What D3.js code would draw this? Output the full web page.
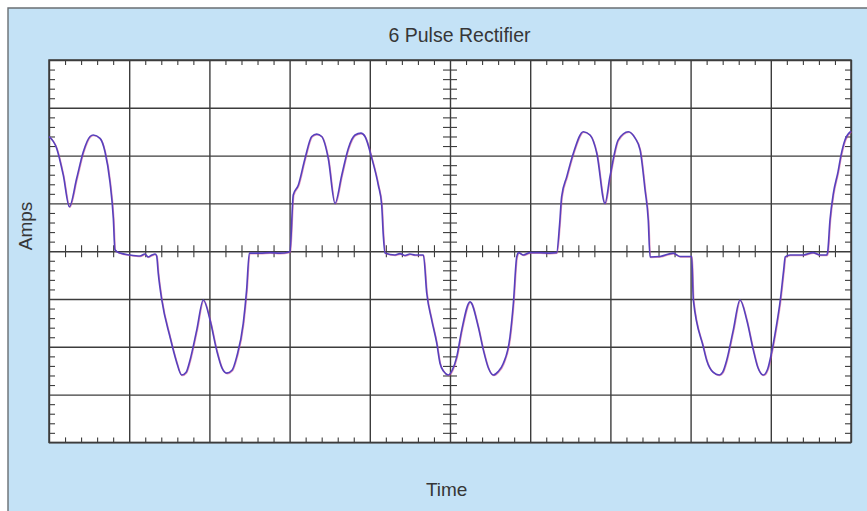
<!DOCTYPE html>
<html>
<head>
<meta charset="utf-8">
<script src="https://cdnjs.cloudflare.com/ajax/libs/d3/7.8.5/d3.min.js"></script>
<style>
  html, body { margin: 0; padding: 0; background: #ffffff; }
  svg { display: block; }
  text { font-family: "Liberation Sans", Arial, sans-serif; fill: #363636; }
</style>
</head>
<body>
<div class="chart"></div>
<script>
// trace: time in ms (5 ms / div), current in divisions
var timeMs = [
  0.00, 0.48, 0.89, 1.27, 1.73, 2.14, 2.56, 2.76, 3.18, 3.49, 3.80, 4.01, 4.11, 4.43,
  5.05, 5.67, 5.98, 6.17, 6.42, 6.61,
  6.71, 6.81, 7.03, 7.54, 7.92, 8.27, 8.55, 8.79, 9.21, 9.62, 10.04, 10.45, 10.78, 11.08,
  11.41, 11.70, 12.11, 12.32, 12.49,
  13.15, 13.78, 14.40, 14.92,
  15.02, 15.23, 15.54, 15.96, 16.38, 16.69, 17.00, 17.41, 17.83, 18.25, 18.66, 19.08,
  19.45, 19.70, 20.12, 20.53, 20.74, 20.84, 20.95,
  21.57, 21.88, 22.19, 22.50, 22.82, 23.23,
  23.34, 23.55, 23.86, 24.17, 24.38, 24.62, 24.89, 25.15, 25.42, 25.73, 26.25, 26.76,
  27.08, 27.40, 27.70, 28.00, 28.32, 28.74, 28.95, 29.16, 29.28,
  29.57, 29.99, 30.61, 31.23, 31.65,
  31.83, 31.96, 32.28, 32.69, 33.31, 33.73, 34.15, 34.66, 34.97, 35.49, 36.12, 36.53,
  36.85, 37.16, 37.36, 37.47,
  38.09, 38.92, 39.34, 40.07,
  40.17, 40.79, 41.00, 41.40, 41.79, 42.00, 42.25, 42.66, 43.08, 43.50, 43.91, 44.20,
  44.53, 44.80, 45.06, 45.33, 45.60, 45.80, 45.90,
  46.20, 47.01, 47.63, 48.07, 48.48, 48.54,
  48.69, 48.90, 49.19, 49.38, 49.63, 50.00
];
var amps = [
  2.40, 2.15, 1.59, 0.93, 1.53, 2.08, 2.40, 2.43, 2.36, 2.08, 1.45, 0.69, 0.03, -0.04,
  -0.08, -0.10, -0.06, -0.12, -0.08, -0.06,
  -0.10, -0.46, -1.02, -1.79, -2.28, -2.59, -2.53, -2.28, -1.65, -1.02, -1.44, -2.07, -2.44, -2.55,
  -2.49, -2.21, -1.51, -0.81, -0.04,
  -0.04, -0.03, -0.04, -0.02,
  -0.01, 1.18, 1.38, 1.94, 2.40, 2.45, 2.40, 1.94, 1.00, 1.59, 2.15, 2.43,
  2.47, 2.40, 1.95, 1.38, 0.97, 0.34, -0.04,
  -0.08, -0.05, -0.09, -0.06, -0.08, -0.08,
  -0.08, -0.88, -1.44, -1.92, -2.35, -2.52, -2.59, -2.48, -2.21, -1.65, -1.06, -1.58,
  -2.07, -2.45, -2.59, -2.52, -2.35, -1.79, -1.09, -0.12, -0.03,
  -0.08, -0.03, -0.03, -0.04, -0.03,
  0.55, 1.14, 1.56, 2.05, 2.50, 2.43, 2.05, 1.00, 1.56, 2.33, 2.50, 2.37,
  2.12, 1.28, 0.65, -0.12,
  -0.11, -0.04, -0.11, -0.11,
  -1.02, -2.00, -2.28, -2.53, -2.59, -2.53, -2.28, -1.65, -1.02, -1.44, -2.07, -2.44,
  -2.59, -2.47, -2.10, -1.60, -1.00, -0.40, -0.12,
  -0.08, -0.08, -0.03, -0.08, -0.08, -0.03,
  0.65, 1.21, 1.66, 2.01, 2.33, 2.51
];

var xMajorTicks = [0, 5, 10, 15, 20, 25, 30, 35, 40, 45, 50];
var yMajorTicks = [-4, -3, -2, -1, 0, 1, 2, 3, 4];
var chartTitle = "6 Pulse Rectifier";
var xLabel = "Time";
var yLabel = "Amps";

var svgWidth = 867;
var svgHeight = 511;

var margin = {
  top: 60,
  bottom: 68.6,
  right: 16,
  left: 49
};

var width = svgWidth - margin.left - margin.right;
var height = svgHeight - margin.top - margin.bottom;

var svg = d3.select(".chart")
  .append("svg")
  .attr("width", svgWidth)
  .attr("height", svgHeight);

// light blue panel with its dark edge on top and left
svg.append("rect")
  .attr("x", 8)
  .attr("y", 8)
  .attr("width", svgWidth)
  .attr("height", svgHeight)
  .attr("fill", "#c4e2f6");

svg.append("path")
  .attr("d", `M8,${svgHeight} L8,8 L${svgWidth},8`)
  .attr("fill", "none")
  .attr("stroke", "#6a6f73")
  .attr("stroke-width", 1.4);

var chartGroup = svg.append("g")
  .attr("transform", `translate(${margin.left}, ${margin.top})`);

// scales
var xScale = d3.scaleLinear()
  .domain([0, 50])
  .range([0, width]);

var yScale = d3.scaleLinear()
  .domain([-4, 4])
  .range([height, 0]);

// white screen
chartGroup.append("rect")
  .attr("width", width)
  .attr("height", height)
  .attr("fill", "#ffffff");

// minor tick positions (5 per division)
var xMinor = d3.range(0, 50.001, 1).filter(d => d % 5 !== 0);
var yMinor = d3.range(-20, 21).filter(d => d % 5 !== 0).map(d => d / 5);

var gridColor = "#3c3c3c";

function styleAxis(g, strokeWidth) {
  g.select(".domain").remove();
  g.selectAll("text").remove();
  g.selectAll("line")
    .attr("stroke", gridColor)
    .attr("stroke-width", strokeWidth);
}

// major grid
chartGroup.append("g")
  .attr("transform", `translate(0, ${height})`)
  .call(d3.axisBottom(xScale).tickValues(xMajorTicks).tickSize(-height).tickFormat(""))
  .call(g => styleAxis(g, 1.4));

chartGroup.append("g")
  .call(d3.axisLeft(yScale).tickValues(yMajorTicks).tickSize(-width).tickFormat(""))
  .call(g => styleAxis(g, 1.4));

// minor ticks along the frame
chartGroup.append("g")
  .call(d3.axisBottom(xScale).tickValues(xMinor).tickSize(5).tickFormat(""))
  .call(g => styleAxis(g, 1.1));

chartGroup.append("g")
  .attr("transform", `translate(0, ${height})`)
  .call(d3.axisTop(xScale).tickValues(xMinor).tickSize(5).tickFormat(""))
  .call(g => styleAxis(g, 1.1));

chartGroup.append("g")
  .call(d3.axisRight(yScale).tickValues(yMinor).tickSize(6).tickFormat(""))
  .call(g => styleAxis(g, 1.1));

chartGroup.append("g")
  .attr("transform", `translate(${width}, 0)`)
  .call(d3.axisLeft(yScale).tickValues(yMinor).tickSize(6).tickFormat(""))
  .call(g => styleAxis(g, 1.1));

// minor ticks crossing the centre lines
chartGroup.append("g")
  .attr("transform", `translate(0, ${yScale(0)})`)
  .call(d3.axisBottom(xScale).tickValues(xMinor).tickSize(6).tickFormat(""))
  .call(g => styleAxis(g, 1.1));

chartGroup.append("g")
  .attr("transform", `translate(0, ${yScale(0)})`)
  .call(d3.axisTop(xScale).tickValues(xMinor).tickSize(6).tickFormat(""))
  .call(g => styleAxis(g, 1.1));

chartGroup.append("g")
  .attr("transform", `translate(${xScale(25)}, 0)`)
  .call(d3.axisLeft(yScale).tickValues(yMinor).tickSize(7).tickFormat(""))
  .call(g => styleAxis(g, 1.1));

chartGroup.append("g")
  .attr("transform", `translate(${xScale(25)}, 0)`)
  .call(d3.axisRight(yScale).tickValues(yMinor).tickSize(7).tickFormat(""))
  .call(g => styleAxis(g, 1.1));

// frame
chartGroup.append("rect")
  .attr("width", width)
  .attr("height", height)
  .attr("fill", "none")
  .attr("stroke", gridColor)
  .attr("stroke-width", 1.5);

// current trace
var traceData = d3.zip(timeMs, amps);

var line = d3.line()
  .x(d => xScale(d[0]))
  .y(d => yScale(d[1]))
  .curve(d3.curveMonotoneX);

// faint magenta fringe like the printed original
chartGroup.append("path")
  .datum(traceData)
  .attr("d", line)
  .attr("transform", "translate(0.6, 0.6)")
  .attr("fill", "none")
  .attr("stroke", "#d04a86")
  .attr("stroke-opacity", 0.55)
  .attr("stroke-width", 1.4);

chartGroup.append("path")
  .datum(traceData)
  .attr("d", line)
  .attr("fill", "none")
  .attr("stroke", "#5740bd")
  .attr("stroke-width", 1.6)
  .attr("stroke-linejoin", "round");

// texts
svg.append("text")
  .attr("x", 459.5)
  .attr("y", 41.5)
  .attr("text-anchor", "middle")
  .attr("font-size", "19.5px")
  .text(chartTitle);

svg.append("text")
  .attr("transform", "translate(32, 226) rotate(-90)")
  .attr("text-anchor", "middle")
  .attr("font-size", "19px")
  .text(yLabel);

svg.append("text")
  .attr("x", 446.7)
  .attr("y", 496)
  .attr("text-anchor", "middle")
  .attr("font-size", "19px")
  .text(xLabel);
</script>
</body>
</html>
